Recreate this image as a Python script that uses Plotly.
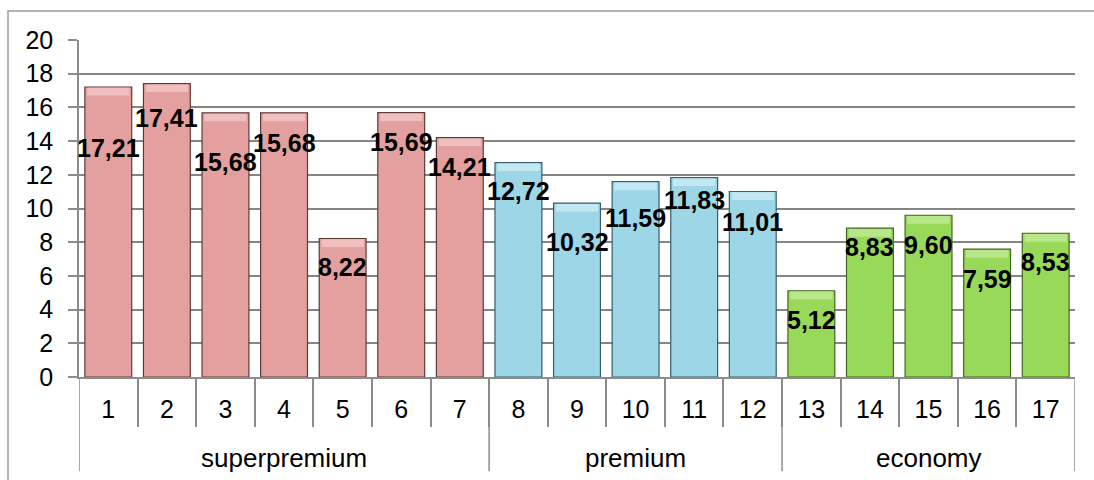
import plotly.graph_objects as go

# Segment names and how many products fall in each
groups = ["superpremium", "premium", "economy"]
group_sizes = [7, 5, 5]

# Product numbers along the category axis
products = [str(i) for i in range(1, 18)]

# Values per product
values = [17.21, 17.41, 15.68, 15.68, 8.22, 15.69, 14.21,
          12.72, 10.32, 11.59, 11.83, 11.01,
          5.12, 8.83, 9.60, 7.59, 8.53]

# Y axis ticks
y_ticks = [0, 2, 4, 6, 8, 10, 12, 14, 16, 18, 20]

# Styling per segment
seg_fill = {"superpremium": "#E4A09F", "premium": "#9CD6E7", "economy": "#98D95A"}
seg_edge = {"superpremium": "#5E3A39", "premium": "#365E6B", "economy": "#43651F"}
seg_cap = {"superpremium": "#EFC0BF", "premium": "#C3E8F3", "economy": "#B9E88A"}

# Downward pixel offset of each value label from its bar top
label_drop_px = [61, 34, 49, 30, 29, 29, 29, 28, 39, 36, 22, 31, 29, 19, 30, 30, 29]

FONT = "Liberation Sans, Arial, sans-serif"

seg_of = []
for g, n in zip(groups, group_sizes):
    seg_of += [g] * n

xs = list(range(len(products)))
boundaries = [x - 0.5 for x in range(1, len(products))]

fig = go.Figure()

fig.add_trace(go.Bar(
    x=xs, y=values, width=0.8,
    marker=dict(color=[seg_fill[s] for s in seg_of],
                line=dict(color=[seg_edge[s] for s in seg_of], width=1.2)),
    hoverinfo="skip", showlegend=False,
))

# Lighter bevel along the top of every bar
cap_h = 0.45
fig.add_trace(go.Bar(
    x=xs, y=[cap_h] * len(values), base=[v - cap_h - 0.05 for v in values], width=0.72,
    marker=dict(color=[seg_cap[s] for s in seg_of], line=dict(width=0)),
    hoverinfo="skip", showlegend=False,
))

# Value labels with comma decimal separator
for i, (v, drop) in enumerate(zip(values, label_drop_px)):
    fig.add_annotation(
        x=i, y=v, xref="x", yref="y", yshift=-drop,
        text=f"{v:.2f}".replace(".", ","), showarrow=False,
        font=dict(family=FONT, size=25, color="black", weight="bold"),
        xanchor="center", yanchor="middle",
    )

# Segment dividers and segment labels below the axis
bounds = [-0.5]
for n in group_sizes:
    bounds.append(bounds[-1] + n)
for b in bounds:
    fig.add_shape(type="line", xref="x", yref="paper", x0=b, x1=b, y0=0, y1=-0.28,
                  line=dict(color="#8c8c8c", width=1.5))
for g, a, b in zip(groups, bounds[:-1], bounds[1:]):
    fig.add_annotation(x=(a + b) / 2, y=-0.24, xref="x", yref="paper", text=g,
                       showarrow=False, font=dict(family=FONT, size=26, color="black"),
                       xanchor="center", yanchor="middle")

# Chart frame
fig.add_shape(type="rect", xref="paper", yref="paper",
              x0=(8 - 79) / 996, x1=1.03, y0=-0.5, y1=1 + 29 / 337,
              line=dict(color="#9a9a9a", width=1.5), layer="below")

fig.update_layout(
    width=1094, height=480,
    margin=dict(l=79, r=19, t=40, b=103),
    paper_bgcolor="white", plot_bgcolor="white",
    barmode="overlay",
    font=dict(family=FONT, color="black"),
    xaxis=dict(
        range=[-0.5, len(products) - 0.5],
        tickmode="array", tickvals=xs, ticktext=products,
        ticks="", showgrid=False, zeroline=False,
        showline=True, linecolor="#8c8c8c", linewidth=1.5,
        tickfont=dict(family=FONT, size=25, color="black"),
        ticklabelstandoff=9,
        minor=dict(tickmode="array", tickvals=boundaries,
                   ticks="outside", ticklen=48, tickcolor="#8c8c8c", tickwidth=1.5, showgrid=False),
    ),
    yaxis=dict(
        range=[0, 20], tickmode="array", tickvals=y_ticks,
        ticks="outside", ticklen=9, tickcolor="#8c8c8c", tickwidth=1.5,
        showgrid=True, gridcolor="#858585", gridwidth=1.8,
        zeroline=False, showline=True, linecolor="#8c8c8c", linewidth=1.5,
        tickfont=dict(family=FONT, size=25, color="black"),
        ticklabelstandoff=10,
    ),
)

fig.write_html("out.html")
